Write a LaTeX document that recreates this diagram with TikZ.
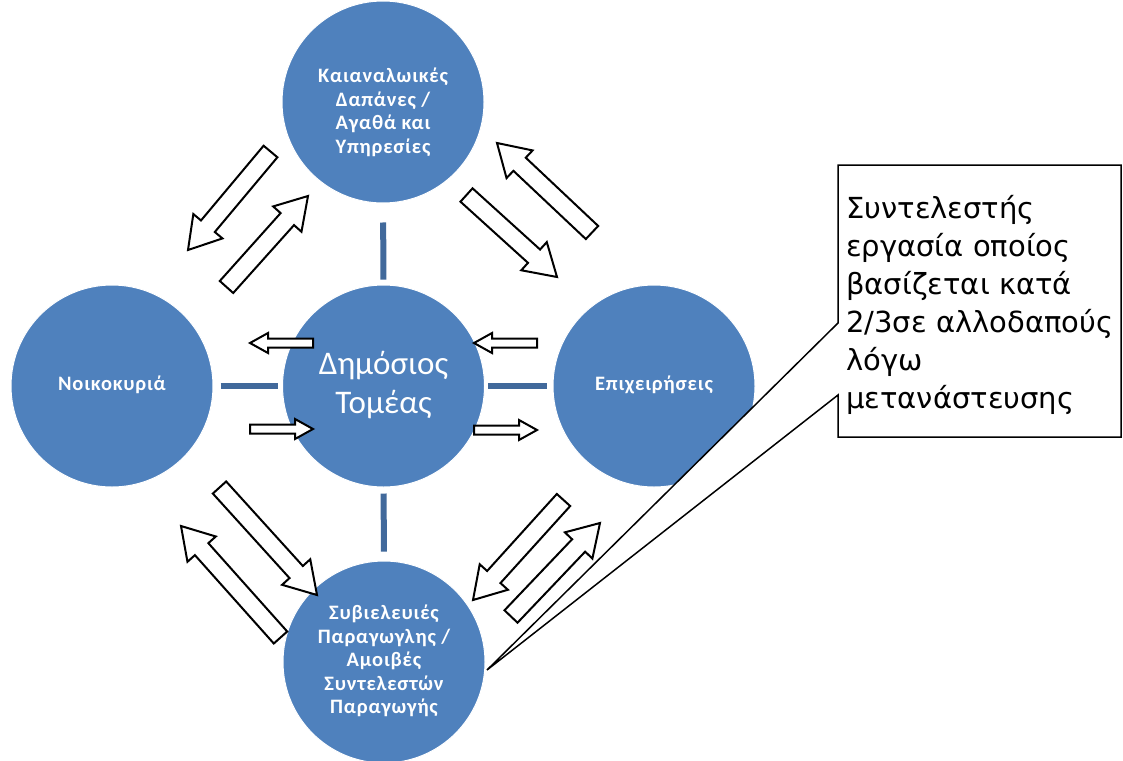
\documentclass[tikz,border=0pt]{standalone}
\usepackage{fontspec}
\setmainfont{Carlito}
\newfontfamily\circfont[LetterSpace=4]{Carlito}
\newfontfamily\calloutfont{DejaVu Sans}
\usetikzlibrary{calc}
\definecolor{circblue}{HTML}{4F81BD}
\definecolor{linkblue}{HTML}{41699B}
\tikzset{
  circ/.style={circle, fill=circblue, draw=white, line width=1pt, minimum size=202pt, inner sep=0pt},
  circtext/.style={text=white, align=center, font=\circfont\bfseries\fontsize{20.5}{23.5}\selectfont},
  bigtext/.style={text=white, align=center, font=\fontsize{33}{39}\selectfont},
  link/.style={draw=linkblue, line width=6pt},
  blockarr/.style={draw=black, fill=white, line width=2pt, line join=miter},
  callout/.style={draw=black, fill=white, line width=1.5pt},
  callouttext/.style={align=left, inner sep=0pt, font=\calloutfont\fontsize{29}{38}\selectfont}
}
% #1 tail, #2 tip, #3 half body, #4 half head, #5 head length
\newcommand{\blockarrow}[5]{%
  \coordinate (#2-h) at ($(#2)!#5!(#1)$);
  \draw[blockarr] ($(#1)!#3!90:(#2)$) -- ($(#2-h)!#3!90:(#2)$) -- ($(#2-h)!#4!90:(#2)$) -- (#2)
    -- ($(#2-h)!#4!-90:(#2)$) -- ($(#2-h)!#3!-90:(#2)$) -- ($(#1)!#3!-90:(#2)$) -- cycle;}
\begin{document}
\begin{tikzpicture}[x=1pt, y=-1pt]
\useasboundingbox (0,0) rectangle (1123,760);
\begin{scope}
\clip (0,0) rectangle (1123,760);
% circles
\node[circ] (top) at (383,102) {};
\node[circ] (ctr) at (383.5,386) {};
\node[circ] (lft) at (112,386) {};
\node[circ] (rgt) at (654,386) {};
\node[circ] (bot) at (384,662) {};
\end{scope}
% links
\draw[link, shorten <=19pt, shorten >=5pt] (top) -- (ctr);
\draw[link, shorten <=7pt, shorten >=4pt] (lft) -- (ctr);
\draw[link, shorten <=3pt, shorten >=6pt] (ctr) -- (rgt);
\draw[link, shorten <=6pt, shorten >=9pt] (ctr) -- (bot);
% texts
\node[circtext] (ttop) at (383,112.5) {Καιαναλωικές\\Δαπάνες /\\Αγαθά και\\Υπηρεσίες};
\node[bigtext] (tctr) at (383.5,385) {Δημόσιος\\Τομέας};
\node[circtext] (tlft) at (112,385) {Νοικοκυριά};
\node[circtext] (trgt) at (654,385) {Επιχειρήσεις};
\node[circtext] (tbot) at (384,661) {Συβιελευιές\\Παραγωγλης /\\Αμοιβές\\Συντελεστών\\Παραγωγής};
% horizontal block arrows
\coordinate (h1a) at (313,343); \coordinate (h1b) at (250,343);
\coordinate (h2a) at (250,429); \coordinate (h2b) at (313,429);
\coordinate (h3a) at (537,343); \coordinate (h3b) at (474,343);
\coordinate (h4a) at (474,430); \coordinate (h4b) at (537,430);
\blockarrow{h1a}{h1b}{4.5pt}{10pt}{18pt}
\blockarrow{h2a}{h2b}{4.5pt}{10pt}{18pt}
\blockarrow{h3a}{h3b}{4.5pt}{10pt}{18pt}
\blockarrow{h4a}{h4b}{4.5pt}{10pt}{18pt}
% diagonal block arrows
\coordinate (d1a) at (270.5,151.5); \coordinate (d1b) at (188,250);
\coordinate (d2a) at (226.5,287); \coordinate (d2b) at (308,196);
\coordinate (d3a) at (592,232.5); \coordinate (d3b) at (497,143);
\coordinate (d4a) at (466.5,195); \coordinate (d4b) at (557,277);
\coordinate (d5a) at (219.5,487.5); \coordinate (d5b) at (317,595);
\coordinate (d6a) at (280.5,637.5); \coordinate (d6b) at (181,526);
\coordinate (d7a) at (563.5,500); \coordinate (d7b) at (473,600);
\coordinate (d8a) at (511,616.5); \coordinate (d8b) at (600,523);
\foreach \n in {1,...,8}{\blockarrow{d\n a}{d\n b}{9pt}{19pt}{31pt}}
% callout
\coordinate (c1) at (838,165); \coordinate (c2) at (1121,165);
\coordinate (c3) at (1121,437); \coordinate (c4) at (838,437);
\coordinate (c5) at (838,395); \coordinate (ctip) at (487,670);
\coordinate (c6) at (838,323);
\draw[callout] (c1) -- (c2) -- (c3) -- (c4) -- (c5) -- (ctip) -- (c6) -- cycle;
\node[callouttext, anchor=west] (ctext) at (846,305) {Συντελεστής\\εργασία οποίος\\βασίζεται κατά\\2/3σε αλλοδαπούς\\λόγω\\μετανάστευσης};
\end{tikzpicture}
\end{document}
